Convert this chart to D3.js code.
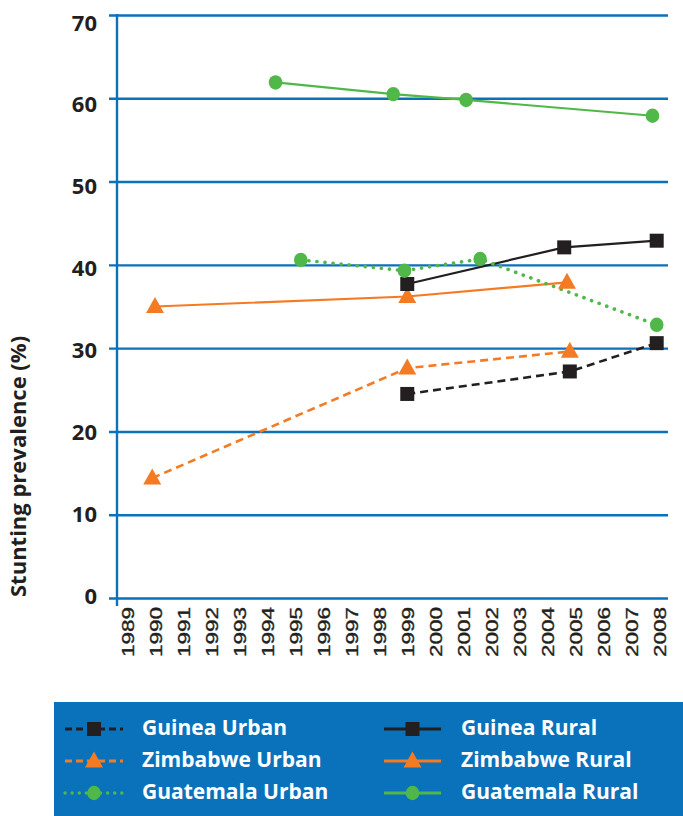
<!DOCTYPE html>
<html>
<head>
<meta charset="utf-8">
<script src="https://cdn.jsdelivr.net/npm/d3@7"></script>
<style>
  html, body { margin: 0; padding: 0; background: #ffffff; }
  svg { display: block; }
</style>
</head>
<body>
<svg id="chart" width="683" height="816"></svg>
<script>
// Survey years (mid-fieldwork) and stunting prevalence (%) by country and area
const guineaUrbanYears   = [1999.0, 2004.8, 2007.9];
const guineaUrbanValues  = [24.5, 27.2, 30.6];
const guineaRuralYears   = [1999.0, 2004.6, 2007.9];
const guineaRuralValues  = [37.7, 42.1, 42.9];
const zimUrbanYears      = [1989.9, 1999.0, 2004.8];
const zimUrbanValues     = [14.4, 27.6, 29.6];
const zimRuralYears      = [1990.0, 1999.0, 2004.7];
const zimRuralValues     = [35.0, 36.2, 37.9];
const guatUrbanYears     = [1995.2, 1998.9, 2001.6, 2007.9];
const guatUrbanValues    = [40.6, 39.3, 40.7, 32.8];
const guatRuralYears     = [1994.3, 1998.5, 2001.1, 2007.75];
const guatRuralValues    = [61.9, 60.5, 59.8, 57.9];

const xTickYears  = d3.range(1989, 2009);
const yTickValues = [0, 10, 20, 30, 40, 50, 60, 70];
const yTitle = "Stunting prevalence (%)";

const BLUE = "#0a71bb", INK = "#231f20", ORANGE = "#f47b24", GREEN = "#4fb848";
const SANS = "'Open Sans', Lato, sans-serif";

const series = [
  { name: "Zimbabwe Rural",   years: zimRuralYears,    values: zimRuralValues,    color: ORANGE, style: "solid",  marker: "triangle" },
  { name: "Zimbabwe Urban",   years: zimUrbanYears,    values: zimUrbanValues,    color: ORANGE, style: "dashed", marker: "triangle" },
  { name: "Guinea Urban",     years: guineaUrbanYears, values: guineaUrbanValues, color: INK,    style: "dashed", marker: "square" },
  { name: "Guinea Rural",     years: guineaRuralYears, values: guineaRuralValues, color: INK,    style: "solid",  marker: "square" },
  { name: "Guatemala Urban",  years: guatUrbanYears,   values: guatUrbanValues,   color: GREEN,  style: "dotted", marker: "circle" },
  { name: "Guatemala Rural",  years: guatRuralYears,   values: guatRuralValues,   color: GREEN,  style: "solid",  marker: "circle" }
];

const legendOrder = [
  ["Guinea Urban", "Guinea Rural"],
  ["Zimbabwe Urban", "Zimbabwe Rural"],
  ["Guatemala Urban", "Guatemala Rural"]
];

const svg = d3.select("#chart");
const plotLeft = 117, plotRight = 668, plotTop = 15, plotBottom = 598;

const x = d3.scaleLinear().domain([1989, 2008]).range([127, 659.5]);
const y = d3.scaleLinear().domain([0, 70]).range([plotBottom, plotTop]);
// tick labels sit on a slightly tighter spacing than the gridlines
const yLabel = d3.scaleLinear().domain([0, 70]).range([594.5, 21.5]);
const xLabel = d3.scaleLinear().domain([1989, 2008]).range([128.5, 660]);

// gridlines + y axis
const gy = svg.append("g").attr("transform", `translate(${plotLeft},0)`)
  .call(d3.axisLeft(y).tickValues(yTickValues).tickSizeInner(-(plotRight - plotLeft)).tickSizeOuter(0).tickFormat(""));
gy.select(".domain").remove();
gy.selectAll(".tick line").attr("x1", -8).attr("stroke", BLUE).attr("stroke-width", 2.4);
gy.selectAll(".tick text").remove();

svg.append("line").attr("x1", plotLeft).attr("x2", plotLeft)
  .attr("y1", plotTop - 1).attr("y2", plotBottom + 8)
  .attr("stroke", BLUE).attr("stroke-width", 2.4);

svg.append("g").selectAll("text").data(yTickValues).join("text")
  .attr("x", 97).attr("y", d => yLabel(d))
  .attr("text-anchor", "end").attr("dominant-baseline", "central")
  .attr("font-family", SANS).attr("font-weight", 700)
  .attr("font-size", 22).attr("fill", INK)
  .text(d => d);

// x tick labels (rotated, wide digits)
svg.append("g").selectAll("text").data(xTickYears).join("text")
  .attr("transform", d => `translate(${xLabel(d)},607) rotate(-90)`)
  .attr("text-anchor", "end").attr("dominant-baseline", "central")
  .attr("font-family", "'Liberation Sans', Arial, sans-serif")
  .attr("font-size", 16).attr("fill", INK)
  .attr("stroke", INK).attr("stroke-width", 0.35)
  .attr("textLength", 50).attr("lengthAdjust", "spacingAndGlyphs")
  .text(d => d);

// y title
svg.append("text")
  .attr("transform", "translate(26,597) rotate(-90)")
  .attr("text-anchor", "start")
  .attr("font-family", SANS).attr("font-weight", 700)
  .attr("font-size", 22).attr("fill", INK)
  .text(yTitle);

const dashFor = s => s === "dashed" ? "8,5" : s === "dotted" ? "0.1,8" : null;

function drawMarker(g, type, cx, cy, color, scale) {
  const k = scale || 1;
  if (type === "square") {
    const s = 14 * k;
    g.append("rect").attr("x", cx - s / 2).attr("y", cy - s / 2).attr("width", s).attr("height", s).attr("fill", color);
  } else if (type === "triangle") {
    const w = 18 * k, h = 16 * k;
    g.append("path").attr("d", `M${cx},${cy - h * 0.6}L${cx + w / 2},${cy + h * 0.4}L${cx - w / 2},${cy + h * 0.4}Z`).attr("fill", color);
  } else {
    g.append("ellipse").attr("cx", cx).attr("cy", cy).attr("rx", 6.8 * k).attr("ry", 7.2 * k).attr("fill", color);
  }
}

const line = d3.line().x(d => x(d[0])).y(d => y(d[1]));
const plot = svg.append("g");
series.forEach(s => {
  const pts = s.years.map((yr, i) => [yr, s.values[i]]);
  plot.append("path").datum(pts).attr("d", line)
    .attr("fill", "none").attr("stroke", s.color)
    .attr("stroke-width", s.style === "dotted" ? 3.6 : (s.style === "dashed" ? 2.6 : 2.2))
    .attr("stroke-linecap", s.style === "dotted" ? "round" : "butt")
    .attr("stroke-dasharray", dashFor(s.style));
});
series.forEach(s => {
  const g = plot.append("g");
  s.years.forEach((yr, i) => drawMarker(g, s.marker, x(yr), y(s.values[i]), s.color));
});

// legend
svg.append("rect").attr("x", 54).attr("y", 702).attr("width", 629).attr("height", 114).attr("fill", BLUE);
const bySeries = Object.fromEntries(series.map(s => [s.name, s]));
const colX = [{ l: 65, r: 123, t: 142 }, { l: 384, r: 441, t: 461 }];
legendOrder.forEach((row, ri) => {
  const cy = 729 + ri * 32;
  row.forEach((name, ci) => {
    const s = bySeries[name], c = colX[ci];
    const g = svg.append("g");
    g.append("line").attr("x1", c.l).attr("x2", c.r).attr("y1", cy).attr("y2", cy)
      .attr("stroke", s.color)
      .attr("stroke-width", s.style === "dotted" ? 3.4 : 2.8)
      .attr("stroke-linecap", s.style === "dotted" ? "round" : "butt")
      .attr("stroke-dasharray", s.style === "dashed" ? "7,4" : s.style === "dotted" ? "0.1,7" : null);
    drawMarker(g, s.marker, (c.l + c.r) / 2, cy, s.color, 1.0);
    g.append("text").attr("x", c.t).attr("y", cy - 2).attr("dominant-baseline", "central")
      .attr("font-family", SANS).attr("font-weight", 700)
      .attr("font-size", 21).attr("fill", "#ffffff").text(name);
  });
});
</script>
</body>
</html>
